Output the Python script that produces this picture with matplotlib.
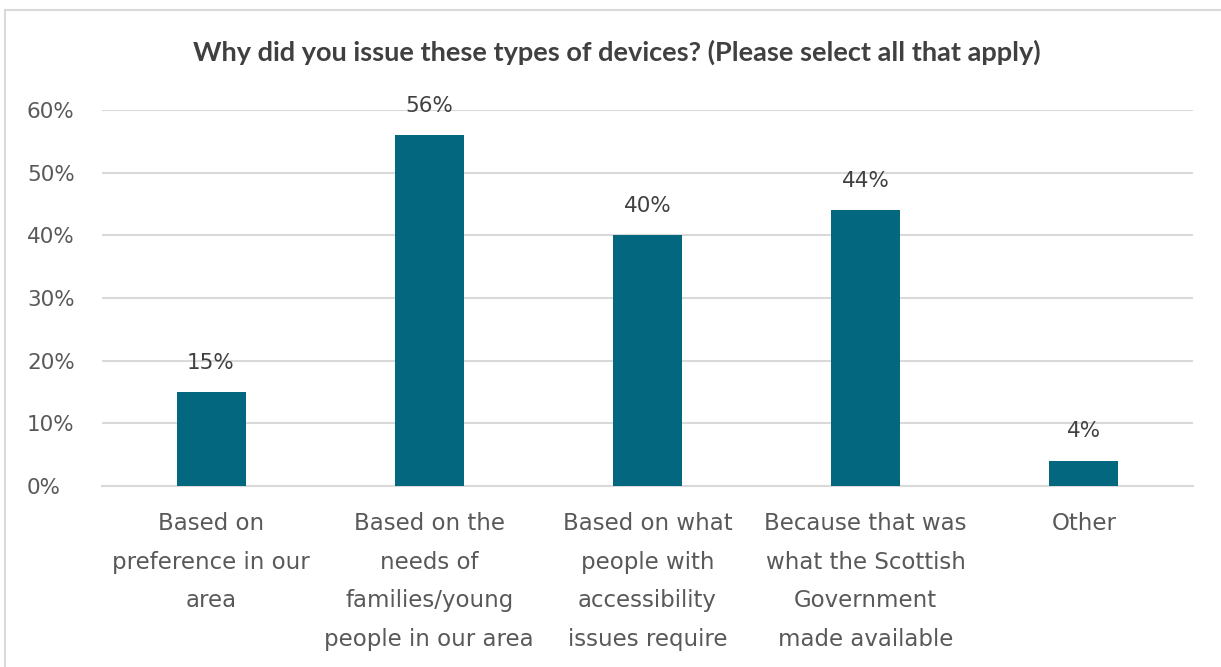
import numpy as np
import matplotlib.pyplot as plt
from matplotlib.patches import Rectangle

categories = ['Based on\npreference in our\narea',
              'Based on the\nneeds of\nfamilies/young\npeople in our area',
              'Based on what\npeople with\naccessibility\nissues require',
              'Because that was\nwhat the Scottish\nGovernment\nmade available',
              'Other']
values = [15, 56, 40, 44, 4]
yticks = [0, 10, 20, 30, 40, 50, 60]

bar_color = '#02677F'
grid_color = '#d9d9d9'
text_color = '#595959'

fig = plt.figure(figsize=(12.21, 6.67), dpi=100)
ax = fig.add_axes([0.0835, 0.2714, 0.8935, 0.5637])

x = np.arange(len(values))
bars = ax.bar(x, values, width=0.316, color=bar_color, zorder=3)

for xi, v in zip(x, values):
    ax.annotate(f'{v}%', (xi, v), xytext=(0, 14), textcoords='offset points',
                ha='center', va='bottom', fontsize=15.5, color='#404040')

ax.set_xlim(-0.5, len(values) - 0.5)
ax.set_ylim(0, 60)
ax.set_yticks(yticks)
ax.set_yticklabels([f'{t}%' for t in yticks], fontsize=15.5, color=text_color)
ax.yaxis.grid(True, color=grid_color, linewidth=1.5, zorder=0)
ax.tick_params(axis='y', length=0, pad=54)
ax.set_xticks(x)
ax.set_xticklabels(categories, fontsize=16.5, color=text_color, linespacing=1.86, va='top')
ax.tick_params(axis='x', length=0, pad=19)
for s in ['top', 'right', 'left']:
    ax.spines[s].set_visible(False)
ax.spines['bottom'].set_color(grid_color)
ax.spines['bottom'].set_linewidth(1.5)
for lbl in ax.get_yticklabels():
    lbl.set_horizontalalignment('left')

fig.text(0.505, 0.922, 'Why did you issue these types of devices? (Please select all that apply)',
         ha='center', va='center', fontsize=19.5, fontweight='bold', family='Lato', color='#404040')

fig.patches.append(Rectangle((0.004, -0.1), 1.2, 1.085, transform=fig.transFigure,
                             fill=False, edgecolor=grid_color, linewidth=1.5))

fig.savefig('out.png', dpi=100)
